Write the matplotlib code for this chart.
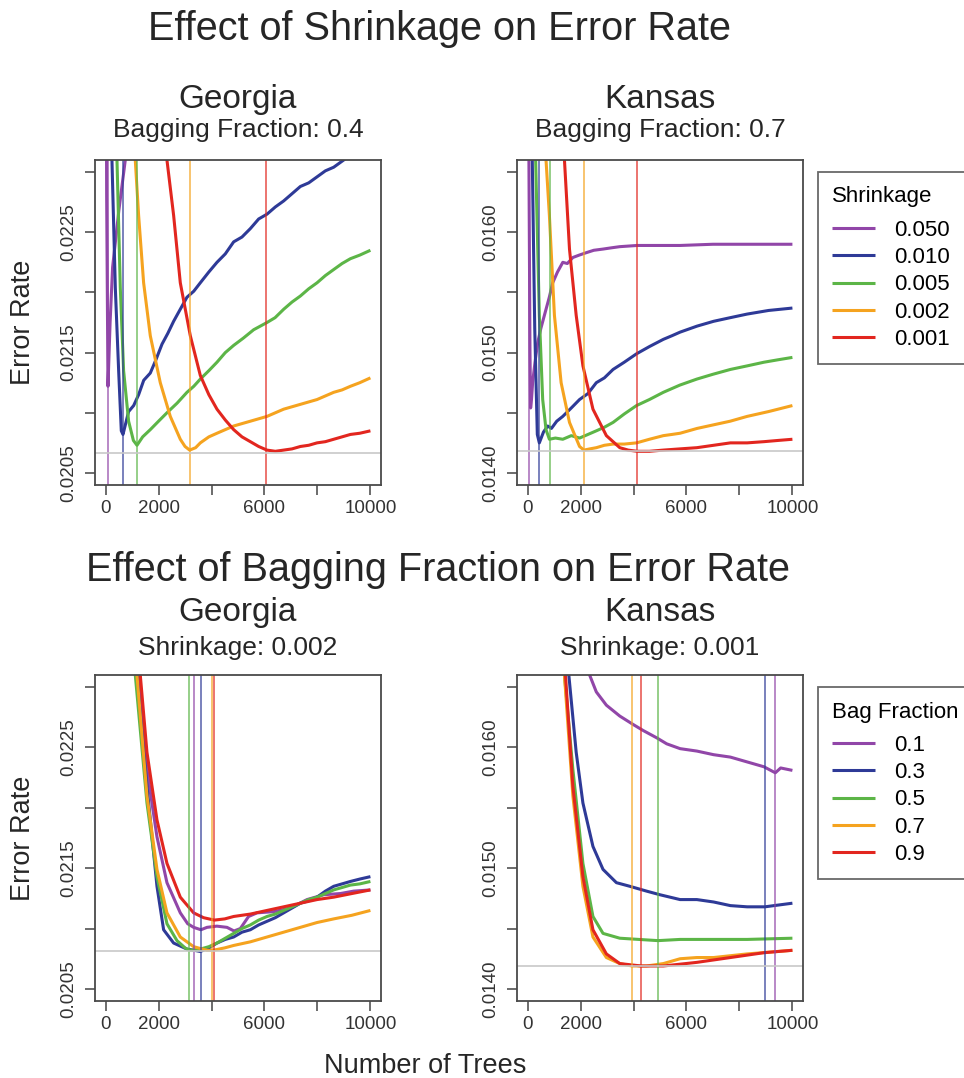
import matplotlib
matplotlib.use("Agg")
import matplotlib.pyplot as plt
from matplotlib.ticker import FixedLocator, FixedFormatter

plt.rcParams['font.family'] = ['Liberation Sans', 'DejaVu Sans']

# ---- colours per level (purple, blue, green, orange, red)
colors = ['#9146A8', '#2E3A97', '#5CB547', '#F5A31F', '#E2261F']

# ---- Georgia, shrinkage panel (bagging fraction 0.4)
ga_s050_x = [0, 40, 90, 170, 265, 500, 744, 1000]
ga_s050_y = [0.0260, 0.0228, 0.02122, 0.02175, 0.02221, 0.02268, 0.0231, 0.0235]
ga_s010_x = [150, 240, 367, 493, 593, 657, 869, 1060, 1247, 1440, 1688, 1900, 2130, 2350, 2569, 2820,
             3073, 3330, 3577, 3900, 4206, 4520, 4836, 5150, 5466, 5780, 6095, 6410, 6725, 7040,
             7355, 7670, 7985, 8300, 8614, 8992, 9500, 10000]
ga_s010_y = [0.0240, 0.0231, 0.02204, 0.02135, 0.02085, 0.02082, 0.02101, 0.02106, 0.02115, 0.02127,
             0.02133, 0.02144, 0.02157, 0.02166, 0.02176, 0.02186, 0.02196, 0.02201, 0.02208, 0.02217,
             0.02225, 0.02232, 0.02242, 0.02246, 0.02253, 0.02261, 0.02265, 0.02271, 0.02276, 0.02282,
             0.02288, 0.02291, 0.02296, 0.02301, 0.02304, 0.0231, 0.02318, 0.02325]
ga_s005_x = [300, 430, 555, 680, 869, 1050, 1186, 1400, 1688, 2000, 2317, 2700, 3073, 3330, 3577, 3900,
             4206, 4520, 4836, 5200, 5592, 6095, 6400, 6725, 7040, 7355, 7670, 7985, 8300, 8614,
             8930, 9244, 9600, 10000]
ga_s005_y = [0.0240, 0.0231, 0.02204, 0.02135, 0.02093, 0.02077, 0.02073, 0.02080, 0.02086, 0.02093,
             0.02100, 0.02108, 0.02117, 0.02122, 0.02128, 0.02135, 0.02142, 0.02150, 0.02156, 0.02162,
             0.02169, 0.02175, 0.02179, 0.02186, 0.02192, 0.02197, 0.02203, 0.02208, 0.02214, 0.02219,
             0.02224, 0.02228, 0.02231, 0.02235]
ga_s002_x = [900, 1121, 1247, 1436, 1688, 2065, 2443, 2821, 3000, 3174, 3400, 3577, 3900, 4206, 4520,
             4836, 5150, 5466, 5780, 6095, 6410, 6725, 7040, 7355, 7670, 7985, 8300, 8614, 8930,
             9244, 9600, 10000]
ga_s002_y = [0.0240, 0.0231, 0.02264, 0.02208, 0.02164, 0.02125, 0.02097, 0.02078, 0.02072, 0.02069,
             0.02071, 0.02075, 0.02080, 0.02083, 0.02086, 0.02089, 0.02091, 0.02093, 0.02095, 0.02097,
             0.02100, 0.02103, 0.02105, 0.02107, 0.02109, 0.02111, 0.02114, 0.02117, 0.02119,
             0.02122, 0.02125, 0.02129]
ga_s001_x = [2000, 2317, 2569, 2821, 3199, 3577, 3900, 4206, 4520, 4836, 5150, 5466, 5780, 6095, 6410,
             6725, 7040, 7355, 7670, 7985, 8300, 8614, 8930, 9244, 9600, 10000]
ga_s001_y = [0.0245, 0.0231, 0.02264, 0.02208, 0.02164, 0.02131, 0.02115, 0.02103, 0.02094, 0.02086,
             0.02080, 0.02076, 0.02072, 0.02069, 0.02068, 0.02069, 0.02070, 0.02072, 0.02073, 0.02075,
             0.02076, 0.02078, 0.02080, 0.02082, 0.02083, 0.02085]

# ---- Kansas, shrinkage panel (bagging fraction 0.7)
ks_s050_x = [0, 50, 90, 114, 150, 190, 280, 380, 500, 696, 820, 949, 1130, 1329, 1500, 1709, 1950,
             2215, 2500, 2848, 3150, 3481, 4139, 4800, 5759, 7000, 8500, 10000]
ks_s050_y = [0.0180, 0.0166, 0.0150, 0.01454, 0.01462, 0.01475, 0.01492, 0.01508, 0.01520, 0.01536,
             0.01546, 0.01558, 0.01567, 0.01575, 0.01574, 0.01579, 0.01581, 0.01583, 0.01585, 0.01586,
             0.01587, 0.01588, 0.01589, 0.01589, 0.01589, 0.01590, 0.01590, 0.01590]
ks_s010_x = [100, 177, 270, 367, 443, 600, 759, 900, 1100, 1329, 1650, 1962, 2280, 2595, 2900, 3228,
             3650, 4114, 4600, 5126, 5450, 5759, 6400, 7025, 7650, 8291, 9100, 10000]
ks_s010_y = [0.0175, 0.0166, 0.0152, 0.01432, 0.01425, 0.01434, 0.01439, 0.01437, 0.01443, 0.01447,
             0.01454, 0.01461, 0.01466, 0.01475, 0.01479, 0.01486, 0.01492, 0.01499, 0.01505,
             0.01511, 0.01514, 0.01517, 0.01522, 0.01526, 0.01529, 0.01532, 0.01535, 0.01537]
ks_s005_x = [200, 304, 443, 570, 696, 823, 1050, 1329, 1650, 1962, 2280, 2595, 2900, 3228, 3650, 4114,
             4600, 5126, 5750, 6392, 7000, 7658, 8300, 8924, 9450, 10000]
ks_s005_y = [0.0175, 0.0166, 0.01531, 0.01461, 0.01436, 0.01428, 0.01429, 0.01428, 0.01431, 0.01429,
             0.01432, 0.01435, 0.01438, 0.01442, 0.01449, 0.01456, 0.01461, 0.01467, 0.01473,
             0.01478, 0.01482, 0.01486, 0.01489, 0.01492, 0.01494, 0.01496]
ks_s002_x = [550, 696, 823, 1013, 1266, 1582, 1962, 2127, 2350, 2595, 2900, 3228, 3650, 4114, 4600,
             5126, 5450, 5759, 6400, 7025, 7650, 8291, 9100, 10000]
ks_s002_y = [0.0175, 0.0166, 0.01614, 0.01531, 0.01475, 0.01442, 0.01422, 0.01419, 0.01420, 0.01421,
             0.01423, 0.01424, 0.01424, 0.01425, 0.01428, 0.01431, 0.01432, 0.01433, 0.01437,
             0.01440, 0.01443, 0.01447, 0.01451, 0.01456]
ks_s001_x = [1200, 1392, 1582, 1835, 2089, 2468, 2975, 3481, 3800, 4139, 4600, 5126, 5750, 6392, 7025,
             7658, 8291, 8924, 9450, 10000]
ks_s001_y = [0.0175, 0.0166, 0.01586, 0.01531, 0.01489, 0.01453, 0.01431, 0.01421, 0.01419, 0.01418,
             0.01418, 0.01419, 0.01420, 0.01421, 0.01423, 0.01425, 0.01425, 0.01426, 0.01427, 0.01428]

# ---- Georgia, bagging panel (shrinkage 0.002)
ga_b01_x = [1000, 1247, 1562, 1940, 2317, 2821, 3100, 3325, 3600, 3829, 4200, 4584, 4850, 5088,
            5400, 5718, 6347, 6977, 7607, 8236, 8866, 9370, 10000]
ga_b01_y = [0.0240, 0.0231, 0.02232, 0.02176, 0.02138, 0.02113, 0.02104, 0.02101, 0.02099, 0.02101,
            0.02102, 0.02101, 0.02098, 0.02100, 0.02110, 0.02113, 0.02114, 0.02117, 0.02124, 0.02128,
            0.02129, 0.02131, 0.02132]
ga_b03_x = [950, 1184, 1562, 1940, 2191, 2569, 3073, 3350, 3577, 3900, 4206, 4520, 4836, 5150, 5466,
            5780, 6095, 6410, 6725, 7040, 7355, 7670, 7985, 8300, 8614, 8930, 9244, 9600, 10000]
ga_b03_y = [0.0240, 0.0231, 0.02218, 0.02135, 0.02099, 0.02088, 0.02083, 0.02082, 0.02081, 0.02084,
            0.02088, 0.02091, 0.02093, 0.02097, 0.02099, 0.02103, 0.02106, 0.02109, 0.02113, 0.02117,
            0.02121, 0.02123, 0.02126, 0.02131, 0.02135, 0.02137, 0.02139, 0.02141, 0.02143]
ga_b05_x = [900, 1121, 1562, 1940, 2317, 2695, 3000, 3161, 3577, 3900, 4206, 4520, 4836, 5150, 5466,
            5780, 6095, 6410, 6725, 7040, 7355, 7670, 7985, 8300, 8614, 8930, 9244, 9600, 10000]
ga_b05_y = [0.0240, 0.0231, 0.02204, 0.02143, 0.02104, 0.02090, 0.02084, 0.02082, 0.02083, 0.02085,
            0.02088, 0.02092, 0.02096, 0.02100, 0.02103, 0.02107, 0.02110, 0.02112, 0.02115, 0.02118,
            0.02121, 0.02124, 0.02126, 0.02129, 0.02132, 0.02134, 0.02136, 0.02137, 0.02139]
ga_b07_x = [950, 1184, 1562, 1940, 2317, 2821, 3325, 3829, 4055, 4500, 4836, 5466, 6095, 6725, 7355,
            7985, 8614, 9300, 10000]
ga_b07_y = [0.0240, 0.0231, 0.02210, 0.02149, 0.02113, 0.02093, 0.02085, 0.02082, 0.02082, 0.02084,
            0.02086, 0.02089, 0.02093, 0.02097, 0.02101, 0.02105, 0.02108, 0.02111, 0.02115]
ga_b09_x = [1050, 1310, 1562, 1940, 2317, 2821, 3325, 3700, 4106, 4500, 4836, 5466, 6095, 6725, 7355,
            7985, 8614, 9300, 10000]
ga_b09_y = [0.0240, 0.0231, 0.02246, 0.02190, 0.02154, 0.02126, 0.02113, 0.02109, 0.02107, 0.02108,
            0.02110, 0.02112, 0.02115, 0.02118, 0.02121, 0.02124, 0.02126, 0.02129, 0.02132]

# ---- Kansas, bagging panel (shrinkage 0.001)
ks_b01_x = [2150, 2342, 2595, 2975, 3481, 3987, 4367, 4873, 5253, 5759, 6392, 7025, 7658, 8291,
            8924, 9354, 9557, 10000]
ks_b01_y = [0.0168, 0.0166, 0.01646, 0.01635, 0.01626, 0.01619, 0.01614, 0.01608, 0.01603, 0.01599,
            0.01597, 0.01594, 0.01592, 0.01588, 0.01584, 0.01579, 0.01583, 0.01581]
ks_b03_x = [1400, 1557, 1835, 2089, 2468, 2848, 3354, 3861, 4494, 4999, 5759, 6392, 7025, 7658,
            8291, 8962, 9304, 10000]
ks_b03_y = [0.0172, 0.0166, 0.01596, 0.01554, 0.01518, 0.01499, 0.01488, 0.01485, 0.01481, 0.01478,
            0.01474, 0.01474, 0.01472, 0.01469, 0.01468, 0.01468, 0.01469, 0.01471]
ks_b05_x = [1250, 1392, 1709, 2089, 2468, 2848, 3481, 4200, 4924, 5759, 7025, 8291, 10000]
ks_b05_y = [0.0172, 0.0166, 0.01582, 0.01504, 0.01460, 0.01446, 0.01442, 0.01441, 0.01440, 0.01441,
            0.01441, 0.01441, 0.01442]
ks_b07_x = [1250, 1392, 1709, 2089, 2468, 2975, 3481, 3937, 4494, 5126, 5759, 6392, 7025, 8291, 10000]
ks_b07_y = [0.0172, 0.0166, 0.01560, 0.01485, 0.01443, 0.01426, 0.01421, 0.01419, 0.01419, 0.01421,
            0.01425, 0.01426, 0.01426, 0.01429, 0.01432]
ks_b09_x = [1290, 1430, 1709, 2089, 2468, 2975, 3481, 4291, 5126, 6392, 7658, 8924, 10000]
ks_b09_y = [0.0172, 0.0166, 0.01568, 0.01493, 0.01449, 0.01429, 0.01421, 0.01419, 0.01419, 0.01422,
            0.01426, 0.01430, 0.01432]

# trees at the minimum of each curve (vertical marker lines) and best error (grey line)
ga_shrink_best = [90, 657, 1186, 3175, 6060]
ks_shrink_best = [38, 443, 861, 2127, 4139]
ga_bag_best = [3350, 3602, 3161, 4030, 4106]
ks_bag_best = [9354, 8962, 4924, 3937, 4291]
ga_shrink_min = 0.02067
ks_shrink_min = 0.01418
ga_bag_min = 0.02081
ks_bag_min = 0.01419

shrink_levels = ['0.050', '0.010', '0.005', '0.002', '0.001']
bag_levels = ['0.1', '0.3', '0.5', '0.7', '0.9']

ga_ticks = [0.0205, 0.0210, 0.0215, 0.0220, 0.0225, 0.0230]
ga_labels = ['0.0205', '', '0.0215', '', '0.0225', '']
ks_ticks = [0.0140, 0.0145, 0.0150, 0.0155, 0.0160, 0.0165]
ks_labels = ['0.0140', '', '0.0150', '', '0.0160', '']
x_ticks = [0, 2000, 4000, 6000, 8000, 10000]
x_labels = ['0', '2000', '', '6000', '', '10000']

W, H = 964, 1078
fig = plt.figure(figsize=(W / 100, H / 100), dpi=100)


def px_axes(x0, y0, x1, y1):
    return fig.add_axes([x0 / W, 1 - y1 / H, (x1 - x0) / W, (y1 - y0) / H])


def panel(ax, series, best, best_val, ylim, yticks, ylabels):
    for (xs, ys), c in zip(series, colors):
        ax.plot(xs, ys, color=c, lw=2.2, solid_capstyle='butt')
    for b, c in zip(best, colors):
        ax.axvline(b, color=c, lw=1.2, alpha=0.75)
    ax.axhline(best_val, color='#c8c8c8', lw=1.2)
    ax.set_xlim(-400, 10400)
    ax.set_ylim(*ylim)
    ax.xaxis.set_major_locator(FixedLocator(x_ticks))
    ax.xaxis.set_major_formatter(FixedFormatter(x_labels))
    ax.yaxis.set_major_locator(FixedLocator(yticks))
    ax.yaxis.set_major_formatter(FixedFormatter(ylabels))
    ax.tick_params(axis='both', direction='out', length=7, width=1.1, color='#444444',
                   labelsize=13.5, labelcolor='#333333')
    ax.tick_params(axis='x', pad=4)
    ax.tick_params(axis='y', labelrotation=90, pad=6)
    for lab in ax.get_yticklabels():
        lab.set_va('center')
    for s in ax.spines.values():
        s.set_color('#4a4a4a')
        s.set_linewidth(1.3)


ax1 = px_axes(95, 160, 381, 485)
ax2 = px_axes(517, 160, 803, 485)
ax3 = px_axes(95, 675, 381, 1001)
ax4 = px_axes(517, 675, 803, 1001)

panel(ax1, [(ga_s050_x, ga_s050_y), (ga_s010_x, ga_s010_y), (ga_s005_x, ga_s005_y),
            (ga_s002_x, ga_s002_y), (ga_s001_x, ga_s001_y)],
      ga_shrink_best, ga_shrink_min, (0.0204, 0.0231), ga_ticks, ga_labels)
panel(ax2, [(ks_s050_x, ks_s050_y), (ks_s010_x, ks_s010_y), (ks_s005_x, ks_s005_y),
            (ks_s002_x, ks_s002_y), (ks_s001_x, ks_s001_y)],
      ks_shrink_best, ks_shrink_min, (0.0139, 0.0166), ks_ticks, ks_labels)
panel(ax3, [(ga_b01_x, ga_b01_y), (ga_b03_x, ga_b03_y), (ga_b05_x, ga_b05_y),
            (ga_b07_x, ga_b07_y), (ga_b09_x, ga_b09_y)],
      ga_bag_best, ga_bag_min, (0.0204, 0.0231), ga_ticks, ga_labels)
panel(ax4, [(ks_b01_x, ks_b01_y), (ks_b03_x, ks_b03_y), (ks_b05_x, ks_b05_y),
            (ks_b07_x, ks_b07_y), (ks_b09_x, ks_b09_y)],
      ks_bag_best, ks_bag_min, (0.0139, 0.0166), ks_ticks, ks_labels)

# legends
for ax, levels, title in [(ax2, shrink_levels, 'Shrinkage'), (ax4, bag_levels, 'Bag Fraction')]:
    handles = ax.get_lines()[:5]
    leg = ax.legend(handles, levels, title=title, loc='upper left',
                    bbox_to_anchor=(1.052, 0.963), borderaxespad=0, fontsize=16,
                    title_fontsize=16, handlelength=1.9, handletextpad=0.9,
                    labelspacing=0.28, borderpad=0.65, fancybox=False, frameon=True)
    leg.get_frame().set_edgecolor('#444444')
    leg.get_frame().set_linewidth(1.3)
    leg._legend_box.align = 'left'
    leg._legend_box.sep = 9

# titles
txt = '#262626'
fig.text(440 / W, 1 - 40 / H, 'Effect of Shrinkage on Error Rate', ha='center', va='baseline',
         fontsize=28.5, color=txt)
fig.text(438 / W, 1 - 581 / H, 'Effect of Bagging Fraction on Error Rate', ha='center',
         va='baseline', fontsize=28.5, color=txt)
for cx, name, sub in [(238, 'Georgia', 'Bagging Fraction: 0.4'), (660, 'Kansas', 'Bagging Fraction: 0.7')]:
    fig.text(cx / W, 1 - 108 / H, name, ha='center', va='baseline', fontsize=24, color=txt)
    fig.text(cx / W, 1 - 137 / H, sub, ha='center', va='baseline', fontsize=19, color=txt)
for cx, name, sub in [(238, 'Georgia', 'Shrinkage: 0.002'), (660, 'Kansas', 'Shrinkage: 0.001')]:
    fig.text(cx / W, 1 - 621 / H, name, ha='center', va='baseline', fontsize=24, color=txt)
    fig.text(cx / W, 1 - 655 / H, sub, ha='center', va='baseline', fontsize=19, color=txt)

fig.text(23 / W, 1 - 322 / H, 'Error Rate', rotation=90, ha='center', va='center',
         fontsize=19.5, color=txt)
fig.text(23 / W, 1 - 838 / H, 'Error Rate', rotation=90, ha='center', va='center',
         fontsize=19.5, color=txt)
fig.text(425 / W, 1 - 1073 / H, 'Number of Trees', ha='center', va='baseline',
         fontsize=19.5, color=txt)

fig.savefig('out.png', dpi=100)
